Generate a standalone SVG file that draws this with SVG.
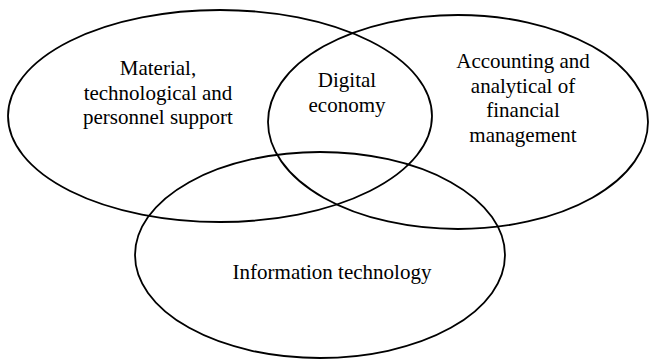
<svg xmlns="http://www.w3.org/2000/svg" width="650" height="360" viewBox="0 0 650 360">
<style>
.e{fill:none;stroke:#000;stroke-width:1.8}
.t{font-family:"Liberation Serif","Times New Roman",serif;font-size:21px;fill:#000;text-anchor:middle}
</style>
<rect width="650" height="360" fill="#fff"/>
<g id="material">
<ellipse class="e" cx="220" cy="116" rx="212" ry="106"/>
<text class="t" x="158" y="75">Material,</text>
<text class="t" x="158" y="99.5">technological and</text>
<text class="t" x="158" y="124">personnel support</text>
</g>
<g id="accounting">
<ellipse class="e" cx="458" cy="122" rx="190" ry="107"/>
<text class="t" x="523" y="68">Accounting and</text>
<text class="t" x="523" y="92.5">analytical of</text>
<text class="t" x="523" y="117">financial</text>
<text class="t" x="523" y="141.5">management</text>
</g>
<g id="information">
<ellipse class="e" cx="320" cy="255" rx="185" ry="103"/>
<text class="t" x="332" y="279">Information technology</text>
</g>
<g id="digital">
<text class="t" x="347" y="87">Digital</text>
<text class="t" x="347" y="112">economy</text>
</g>
<g id="connectors"></g>
</svg>
